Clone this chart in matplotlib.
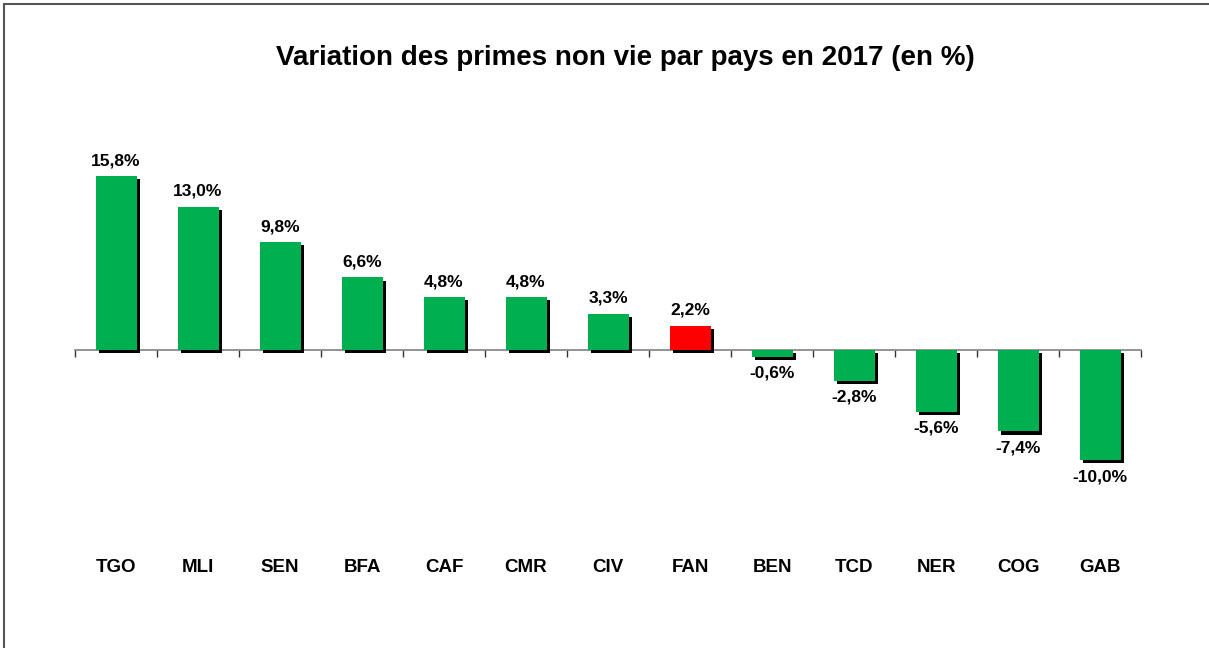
import matplotlib.pyplot as plt
import matplotlib.patheffects as pe
from matplotlib.patches import Rectangle
from matplotlib.transforms import blended_transform_factory, offset_copy

pays = ['TGO', 'MLI', 'SEN', 'BFA', 'CAF', 'CMR', 'CIV', 'FAN', 'BEN', 'TCD', 'NER', 'COG', 'GAB']
variation = [15.8, 13.0, 9.8, 6.6, 4.8, 4.8, 3.3, 2.2, -0.6, -2.8, -5.6, -7.4, -10.0]
couleurs = ['#00B050'] * 7 + ['#FF0000'] + ['#00B050'] * 5

plt.rcParams['font.family'] = ['Liberation Sans', 'DejaVu Sans']

W, H = 1209, 648
fig = plt.figure(figsize=(W / 100, H / 100), dpi=100)

# cadre autour du graphique (bords droit/bas hors image)
fig.patches.append(Rectangle((3.5 / W, -0.05), 1.1, (H - 4.5) / H + 0.05, transform=fig.transFigure,
                             fill=False, edgecolor='#555555', linewidth=1.5))

# axe : x de 75 a 1141 px, zero a y=350 px, ~11 px par %
y0, y1 = 130, 570
ax = fig.add_axes([75 / W, 1 - y1 / H, (1141 - 75) / W, (y1 - y0) / H])
ax.set_xlim(-0.5, len(pays) - 0.5)
ax.set_ylim(-20, 20)

ax.bar(range(len(pays)), variation, width=0.5, color=couleurs, zorder=3,
       path_effects=[pe.SimplePatchShadow(offset=(2.3, -2.3), shadow_rgbFace='black', alpha=1), pe.Normal()])

for s in ['top', 'right', 'left']:
    ax.spines[s].set_visible(False)
ax.spines['bottom'].set_position(('data', 0))
ax.spines['bottom'].set_color('#808080')
ax.spines['bottom'].set_linewidth(1.2)
ax.set_yticks([])
ax.set_xticks([i - 0.5 for i in range(len(pays) + 1)])
ax.set_xticklabels([])
ax.tick_params(axis='x', direction='out', length=5, width=1, color='#333333')

for i, v in enumerate(variation):
    txt = f'{v:.1f}%'.replace('.', ',')
    if v >= 0:
        tr = offset_copy(ax.transData, fig=fig, x=0, y=8, units='dots')
        ax.text(i, v, txt, ha='center', va='bottom', fontsize=12.5, fontweight='bold', transform=tr)
    else:
        tr = offset_copy(ax.transData, fig=fig, x=0, y=-9, units='dots')
        ax.text(i, v, txt, ha='center', va='top', fontsize=12.5, fontweight='bold', transform=tr)

bt = blended_transform_factory(ax.transData, fig.transFigure)
for i, p in enumerate(pays):
    ax.text(i, 1 - 568 / H, p, ha='center', va='center', fontsize=13.5, fontweight='bold', transform=bt)

fig.text(625 / W, 1 - 58 / H, 'Variation des primes non vie par pays en 2017 (en %)',
         ha='center', va='center', fontsize=20, fontweight='bold')

fig.savefig('out.png', dpi=100)
